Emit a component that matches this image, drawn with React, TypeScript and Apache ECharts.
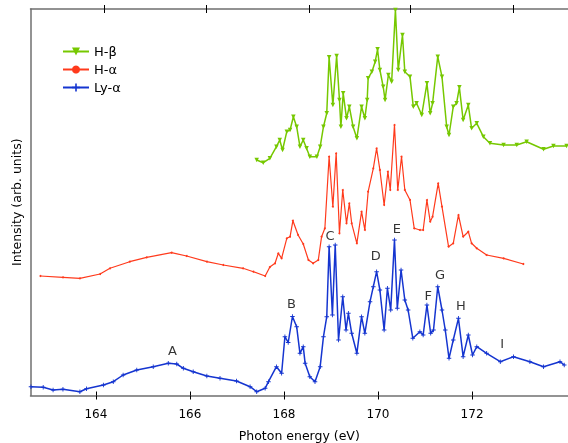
import React, { useEffect, useRef } from "react";
import * as echarts from "echarts";

// Axis ticks (photon energy, eV)
const tickValues = [164, 166, 168, 170, 172];
const topTickValues = [164.18, 166.35, 168.53, 170.69, 172.87];
const xMin = 162.61;
const xMax = 174.04;

// Ly-alpha (blue)
const lyAlphaE = [162.62, 162.88, 163.09, 163.3, 163.66, 163.8, 164.16, 164.37, 164.58, 164.87, 165.22, 165.54, 165.72, 165.86, 166.07, 166.36, 166.64, 166.99, 167.28, 167.42, 167.6, 167.67, 167.84, 167.95, 168.02, 168.09, 168.18, 168.27, 168.34, 168.41, 168.45, 168.55, 168.66, 168.77, 168.84, 168.91, 168.96, 169.03, 169.09, 169.16, 169.25, 169.32, 169.37, 169.44, 169.55, 169.65, 169.72, 169.83, 169.9, 169.97, 170.04, 170.13, 170.2, 170.27, 170.35, 170.41, 170.49, 170.57, 170.64, 170.74, 170.89, 170.96, 171.04, 171.12, 171.18, 171.27, 171.36, 171.43, 171.51, 171.6, 171.71, 171.81, 171.92, 172.01, 172.1, 172.31, 172.6, 172.88, 173.23, 173.52, 173.87, 173.96];
const lyAlphaI = [8.8, 8.2, 5.5, 6.2, 3.8, 6.8, 10.5, 13.8, 20.5, 25.5, 28.8, 32.2, 31.5, 27.2, 23.8, 19.5, 17.2, 14.5, 8.8, 3.8, 7.2, 13.8, 28.8, 22.2, 58.8, 53, 79, 68.8, 42.2, 48.8, 32.2, 18.8, 13.8, 28.8, 58.8, 78.8, 148.8, 80.5, 150.5, 55.5, 98.8, 65.5, 82.2, 62.2, 42.2, 78.8, 62.2, 93.8, 108.8, 123.8, 105.5, 65.5, 107.2, 85.5, 155.5, 87.2, 125.5, 95.5, 85.5, 57.2, 63.8, 60.5, 90.5, 62.2, 65.5, 108.8, 85.5, 65.5, 37.2, 55.5, 77.2, 38.8, 60.5, 40.5, 48.8, 42.2, 33.8, 38.8, 33.8, 28.8, 33.8, 30.5];

// H-alpha (red)
const hAlphaE = [162.82, 163.3, 163.66, 164.09, 164.3, 164.72, 165.08, 165.61, 165.93, 166.36, 166.71, 167.13, 167.35, 167.6, 167.7, 167.81, 167.88, 167.95, 168.06, 168.13, 168.19, 168.3, 168.41, 168.52, 168.62, 168.73, 168.8, 168.87, 168.96, 169.04, 169.11, 169.18, 169.25, 169.33, 169.39, 169.44, 169.55, 169.65, 169.72, 169.79, 169.9, 169.97, 170.04, 170.13, 170.21, 170.26, 170.35, 170.42, 170.5, 170.57, 170.68, 170.77, 170.89, 170.96, 171.04, 171.11, 171.16, 171.28, 171.36, 171.5, 171.6, 171.71, 171.81, 171.92, 171.99, 172.1, 172.31, 172.67, 173.09];
const hAlphaI = [119.5, 118.2, 117.2, 121.5, 127.2, 133.8, 138.2, 142.8, 139.5, 133.8, 130.5, 127.2, 123.8, 119.5, 128.5, 132.2, 142.2, 137.2, 157.2, 158.8, 174.8, 160.5, 151.5, 135.5, 132.2, 135.5, 158.8, 167.2, 238.8, 188.8, 242.2, 162.2, 205.5, 172.2, 192.2, 172.2, 152.2, 183.8, 165.5, 203.8, 227.2, 247.2, 225.5, 190.5, 223.8, 205.5, 270.5, 205.5, 238.8, 205.5, 195.5, 167.2, 165.5, 165.5, 195.5, 173.8, 178.8, 212.2, 188.8, 148.8, 152.2, 180.5, 158.8, 163.8, 152.2, 147.2, 140.5, 137.2, 131.5];

// H-beta (green)
const hBetaE = [167.42, 167.56, 167.7, 167.84, 167.91, 167.97, 168.06, 168.13, 168.2, 168.27, 168.34, 168.41, 168.48, 168.55, 168.7, 168.77, 168.84, 168.91, 168.96, 169.04, 169.12, 169.18, 169.21, 169.26, 169.33, 169.39, 169.47, 169.55, 169.65, 169.72, 169.77, 169.79, 169.87, 169.94, 169.99, 170.04, 170.11, 170.15, 170.22, 170.29, 170.37, 170.43, 170.52, 170.57, 170.68, 170.75, 170.82, 170.93, 171.04, 171.11, 171.16, 171.27, 171.36, 171.46, 171.51, 171.6, 171.67, 171.73, 171.81, 171.92, 171.99, 172.1, 172.24, 172.38, 172.67, 172.95, 173.16, 173.52, 173.73, 174.01];
const hBetaI = [235.5, 232.8, 237.2, 248.8, 255.5, 245.5, 263.8, 265.5, 278.8, 268.8, 248.8, 255.5, 247.2, 238.8, 238.8, 248.8, 268.8, 282.2, 338.2, 290.5, 339.5, 295.5, 268.8, 302.2, 277.2, 288.8, 268.8, 257.2, 288.8, 277.2, 295.5, 317.2, 323.8, 333.8, 346.2, 325.5, 308.8, 295.5, 320.5, 313.8, 385.5, 325.5, 360.5, 323.8, 318.8, 288.8, 292.2, 280.5, 312.2, 282.2, 292.2, 338.8, 318.8, 268.8, 260.5, 288.8, 292.2, 308.2, 275.5, 290.5, 267.2, 272.2, 258.8, 252.2, 250.5, 250.5, 253.8, 246.2, 249.5, 249.5];

// Peak annotations
const peakLabels = ["A", "B", "C", "D", "E", "F", "G", "H", "I"];
const peakE = [165.63, 168.16, 168.98, 169.95, 170.4, 171.07, 171.32, 171.76, 172.64];
const peakI = [45.5, 92.2, 160.5, 140.5, 167.2, 100.5, 121.5, 90.5, 52.2];

const yMax = 386.5;

export default function App() {
  const ref = useRef<HTMLDivElement>(null);
  useEffect(() => {
    const chart = echarts.init(ref.current!, null, { renderer: "svg" });
    const pairs = (xs: number[], ys: number[]) => xs.map((x, i) => [x, ys[i]]);
    const font = "DejaVu Sans";
    const axisColor = "#6f6f6f";
    const green = "#76c800";
    const red = "#ff3a1c";
    const blue = "#1535d0";
    const plusPath = "path://M4,0H6V4H10V6H6V10H4V6H0V4H4Z";
    const triDown = "path://M0,0L10,0L5,9Z";
    const baseX = {
      type: "value",
      min: xMin,
      max: xMax,
      splitLine: { show: false },
    };
    chart.setOption({
      animation: false,
      textStyle: { fontFamily: font },
      grid: { left: 30.5, right: 0, top: 9, bottom: 47.5, containLabel: false, outerBoundsMode: "none" },
      legend: {
        data: ["H-β", "H-α", "Ly-α"],
        orient: "vertical",
        left: 57,
        top: 40,
        itemWidth: 26,
        itemHeight: 10,
        itemGap: 5,
        textStyle: { fontSize: 13, color: "#000", fontFamily: font },
      },
      xAxis: [
        {
          ...baseX,
          position: "bottom",
          axisLine: { show: true, lineStyle: { color: axisColor, width: 1.5 } },
          axisTick: { show: true, inside: true, length: 4, customValues: tickValues, lineStyle: { color: "#000" } },
          axisLabel: { customValues: tickValues, margin: 12, fontSize: 12, color: "#000", fontFamily: font },
          name: "Photon energy (eV)",
          nameLocation: "middle",
          nameGap: 33,
          nameTextStyle: { fontSize: 12.5, color: "#000", fontFamily: font },
        },
        {
          ...baseX,
          position: "bottom",
          axisLine: { show: false },
          axisTick: { show: true, inside: false, length: 4, customValues: tickValues, lineStyle: { color: "#000" } },
          axisLabel: { show: false },
        },
        {
          ...baseX,
          position: "top",
          axisLine: { show: true, lineStyle: { color: axisColor, width: 1.5 } },
          axisTick: { show: true, inside: true, length: 4, customValues: topTickValues, lineStyle: { color: "#000" } },
          axisLabel: { show: false },
        },
        {
          ...baseX,
          position: "top",
          axisLine: { show: false },
          axisTick: { show: true, inside: false, length: 4, customValues: topTickValues, lineStyle: { color: "#000" } },
          axisLabel: { show: false },
        },
      ],
      yAxis: {
        type: "value",
        min: 0,
        max: yMax,
        axisLine: { show: true, lineStyle: { color: axisColor, width: 1.5 } },
        axisTick: { show: false },
        axisLabel: { show: false },
        splitLine: { show: false },
        name: "Intensity (arb. units)",
        nameLocation: "middle",
        nameGap: 8,
        nameTextStyle: { fontSize: 12.5, color: "#000", fontFamily: font },
      },
      series: [
        {
          name: "H-β",
          type: "line",
          data: pairs(hBetaE, hBetaI),
          symbol: triDown,
          symbolSize: 4.5,
          showSymbol: true,
          lineStyle: { color: green, width: 1.5 },
          itemStyle: { color: green },
        },
        {
          name: "H-α",
          type: "line",
          data: pairs(hAlphaE, hAlphaI),
          symbol: "circle",
          symbolSize: 2,
          showSymbol: true,
          lineStyle: { color: red, width: 1.2 },
          itemStyle: { color: red },
        },
        {
          name: "Ly-α",
          type: "line",
          data: pairs(lyAlphaE, lyAlphaI),
          symbol: plusPath,
          symbolSize: 4.5,
          showSymbol: true,
          lineStyle: { color: blue, width: 1.5 },
          itemStyle: { color: blue },
        },
        {
          name: "peaks",
          type: "scatter",
          silent: true,
          data: pairs(peakE, peakI),
          symbolSize: 1,
          itemStyle: { color: "rgba(0,0,0,0)" },
          label: {
            show: true,
            position: "inside",
            formatter: (p: any) => peakLabels[p.dataIndex],
            color: "#000",
            fontSize: 13,
            fontFamily: font,
          },
        },
      ],
    });
    return () => chart.dispose();
  }, []);
  return (
    <div
      ref={ref}
      style={{ position: "fixed", left: 0, top: 0, width: 568, height: 443 }}
    />
  );
}
